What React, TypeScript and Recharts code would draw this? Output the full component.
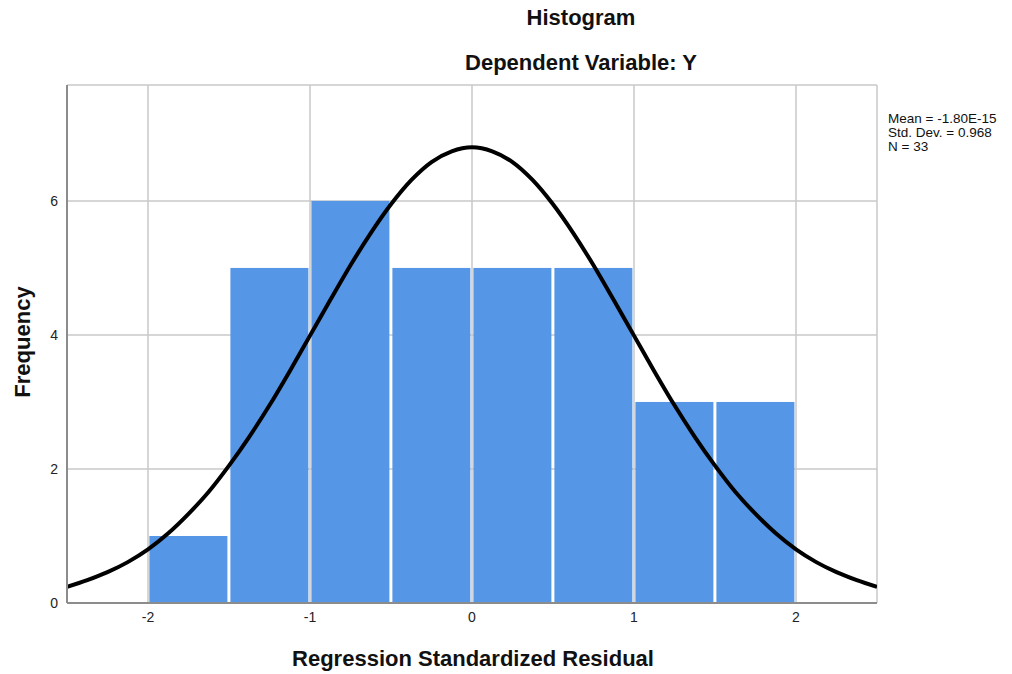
import { ComposedChart, Bar, Line, XAxis, YAxis, CartesianGrid } from 'recharts'

// histogram bins (centres) and counts
const binCenters = [-1.75, -1.25, -0.75, -0.25, 0.25, 0.75, 1.25, 1.75]
const frequencies = [1, 5, 6, 5, 5, 5, 3, 3]

// normal curve
const curveX = [
  -2.5, -2.375, -2.25, -2.125, -2, -1.875, -1.75, -1.625, -1.5, -1.375, -1.25,
  -1.125, -1, -0.875, -0.75, -0.625, -0.5, -0.375, -0.25, -0.125, 0,
  0.125, 0.25, 0.375, 0.5, 0.625, 0.75, 0.875, 1, 1.125, 1.25,
  1.375, 1.5, 1.625, 1.75, 1.875, 2, 2.125, 2.25, 2.375, 2.5,
]
const curveY = [
  0.24, 0.34, 0.46, 0.61, 0.8, 1.04, 1.33, 1.66, 2.05, 2.48, 2.95,
  3.46, 3.99, 4.52, 5.04, 5.52, 5.95, 6.31, 6.58, 6.74, 6.8,
  6.74, 6.58, 6.31, 5.95, 5.52, 5.04, 4.52, 3.99, 3.46, 2.95,
  2.48, 2.05, 1.66, 1.33, 1.04, 0.8, 0.61, 0.46, 0.34, 0.24,
]

const xTicks = [-2, -1, 0, 1, 2]
const yTicks = [0, 2, 4, 6]
const statLines = ['Mean = -1.80E-15', 'Std. Dev. = 0.968', 'N = 33']

const font = '"Liberation Sans", Arial, sans-serif'
const BAR_W = 78

const data = curveX.map((x, i) => {
  const b = binCenters.indexOf(x)
  return { x, curve: curveY[i], freq: b >= 0 ? frequencies[b] : null }
})

// bars are narrower than the band recharts computes from the dense curve points,
// so widen them around their centre
const BinShape = (props: any) => {
  const { x, y, width, height } = props
  if (!height || height <= 0) return null
  const cx = x + width / 2
  return <rect x={cx - BAR_W / 2} y={y} width={BAR_W} height={height} fill="#5596e6" />
}

export default function App() {
  return (
    <div style={{ position: 'absolute', left: 0, top: 0, width: 1012, height: 674, background: '#fff', fontFamily: font }}>
      <ComposedChart width={1012} height={674} data={data} margin={{ top: 85, right: 135, left: 7, bottom: 31 }}>
        <CartesianGrid stroke="#c9c9c9" strokeWidth={1.5} />
        <XAxis
          dataKey="x"
          type="number"
          domain={[-2.5, 2.5]}
          ticks={xTicks}
          allowDataOverflow
          height={40}
          tickSize={0}
          tickMargin={9}
          axisLine={{ stroke: '#8c8c8c', strokeWidth: 2 }}
          tickLine={false}
          tick={{ fill: '#222', fontSize: 14, fontFamily: font }}
        />
        <YAxis
          type="number"
          domain={[0, 7.73]}
          ticks={yTicks}
          allowDataOverflow
          width={60}
          tickSize={0}
          tickMargin={9}
          axisLine={{ stroke: '#8c8c8c', strokeWidth: 2 }}
          tickLine={false}
          tick={{ fill: '#222', fontSize: 14, fontFamily: font }}
        />
        <Bar dataKey="freq" fill="#5596e6" shape={BinShape} isAnimationActive={false} />
        <Line
          dataKey="curve"
          type="monotone"
          stroke="#000"
          strokeWidth={4}
          dot={false}
          activeDot={false}
          isAnimationActive={false}
        />
      </ComposedChart>

      <div style={{ position: 'absolute', left: 381, width: 400, top: 5, textAlign: 'center', fontSize: 22, fontWeight: 'bold', color: '#111' }}>
        Histogram
      </div>
      <div style={{ position: 'absolute', left: 381, width: 400, top: 50, textAlign: 'center', fontSize: 22, fontWeight: 'bold', color: '#111' }}>
        Dependent Variable: Y
      </div>
      <div style={{ position: 'absolute', left: 888, top: 112, fontSize: 13.5, lineHeight: '14px', color: '#111' }}>
        {statLines.map((s) => (
          <div key={s}>{s}</div>
        ))}
      </div>
      <div style={{ position: 'absolute', left: 273, width: 400, top: 646, textAlign: 'center', fontSize: 22, fontWeight: 'bold', color: '#111' }}>
        Regression Standardized Residual
      </div>
      <div
        style={{
          position: 'absolute', left: -177, width: 400, top: 329, textAlign: 'center', fontSize: 22,
          fontWeight: 'bold', color: '#111', transform: 'rotate(-90deg)',
        }}
      >
        Frequency
      </div>
    </div>
  )
}
